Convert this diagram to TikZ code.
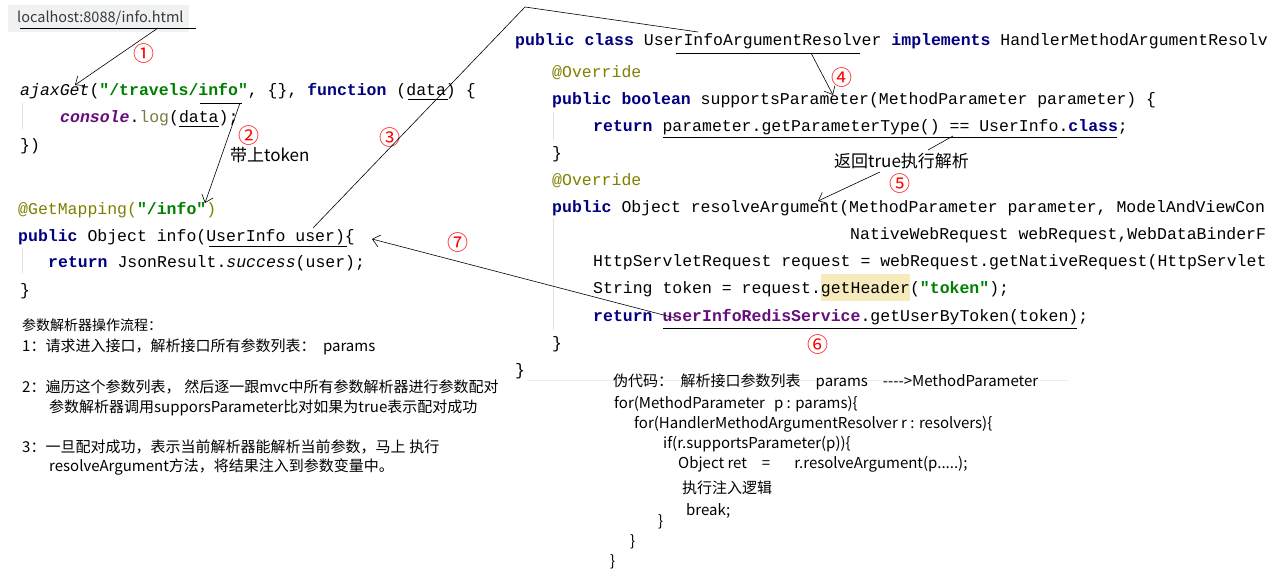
\documentclass[tikz,border=0pt]{standalone}
\usepackage{fontspec}
\setmonofont{Liberation Mono}
\newfontfamily\cjk{Noto Sans CJK SC}
\usetikzlibrary{arrows.meta}
\definecolor{kwc}{HTML}{000080}
\definecolor{strc}{HTML}{008000}
\definecolor{annc}{HTML}{808000}
\definecolor{purp}{HTML}{660E7A}
\definecolor{logc}{HTML}{7A7A43}
\definecolor{hlc}{HTML}{F6EBBC}
\definecolor{guidec}{HTML}{E2E2E2}
\definecolor{urlbg}{HTML}{EFF1F3}
\definecolor{urltext}{HTML}{3A3A3A}
\newcommand\Kw[1]{{\bfseries\color{kwc}#1}}
\newcommand\Str[1]{{\bfseries\color{strc}#1}}
\newcommand\Ann[1]{{\color{annc}#1}}
\tikzset{
  code/.style={anchor=base west, inner sep=0pt, font=\ttfamily\fontsize{16.5}{20}\selectfont},
  note/.style={anchor=base west, inner sep=0pt, font=\cjk\fontsize{15}{18}\selectfont},
  big/.style={anchor=base west, inner sep=0pt, font=\cjk\fontsize{17}{20}\selectfont},
  num/.style={inner sep=0pt, text=red, font=\cjk\fontsize{21}{21}\selectfont},
  uline/.style={line width=0.8pt},
  conn/.style={line width=0.6pt},
  arr/.style={conn, -{Straight Barb[length=7pt,width=12pt]}},
  guide/.style={guidec, line width=1pt},
}
\begin{document}
\begin{tikzpicture}[x=1pt,y=-1pt]
\useasboundingbox[fill=white] (0,0) rectangle (1271,577);

% ---------- left: browser url ----------
\fill[urlbg] (8,5) rectangle (189,32);
\node[anchor=base west, inner sep=0pt, text=urltext, font=\cjk\fontsize{14.5}{16}\selectfont] (url) at (17,23) {localhost:8088/info.html};

% ---------- left code ----------
\draw[guide] (22,103) -- (22,129);
\draw[guide] (22,248) -- (22,273);
\node[code] (l1) at (20,96) {\textit{ajaxGet}(\Str{"/travels/info"}, \{\}, \Kw{function} (data) \{};
\node[code] (l2) at (60,123) {{\bfseries\itshape\color{purp}console}.{\color{logc}log}(data);};
\node[code] (l3) at (20,151) {\})};
\node[code] (l4) at (18,215) {\Ann{@GetMapping(}\Str{"/info"}\Ann{)}};
\node[code] (l5) at (18,242) {\Kw{public} Object info(UserInfo user)\{};
\node[code] (l6) at (48,268) {\Kw{return} JsonResult.\textit{success}(user);};
\node[code] (l7) at (20,295) {\}};

% ---------- right code ----------
\fill[hlc] (821,274) rectangle (910,301);
\draw[guide] (553,112) -- (553,140);
\draw[guide] (553,218) -- (553,330);
\node[code] (r1) at (515,46) {\Kw{public} \Kw{class} UserInfoArgumentResolver \Kw{implements} HandlerMethodArgumentResolv};
\node[code] (r2) at (552,78) {\Ann{@Override}};
\node[code] (r3) at (552,105) {\Kw{public} \Kw{boolean} supportsParameter(MethodParameter parameter) \{};
\node[code] (r4) at (593,132) {\Kw{return} parameter.getParameterType() == UserInfo.\Kw{class};};
\node[code] (r5) at (552,159) {\}};
\node[code] (r6) at (552,186) {\Ann{@Override}};
\node[code] (r7) at (552,213) {\Kw{public} Object resolveArgument(MethodParameter parameter, ModelAndViewCon};
\node[code] (r8) at (850,240) {NativeWebRequest webRequest,WebDataBinderF};
\node[code] (r9) at (593,267) {HttpServletRequest request = webRequest.getNativeRequest(HttpServlet};
\node[code] (r10) at (593,294) {String token = request.getHeader(\Str{"token"});};
\node[code] (r11) at (593,321) {\Kw{return} {\bfseries\color{purp}userInfoRedisService}.getUserByToken(token);};
\node[code] (r12) at (552,348) {\}};
\node[code] (r13) at (515,375) {\}};
\draw[color=black!7, line width=0.8pt] (527,380) -- (1068,380);

% ---------- underlines ----------
\draw[uline] (20,28) -- (196,28);
\draw[uline] (200,103) -- (242,103);
\draw[uline] (408,99) -- (448,99);
\draw[uline] (179,126) -- (219,126);
\draw[uline] (209,246) -- (347,246);
\draw[uline] (676,53) -- (860,53);
\draw[uline] (663,137) -- (1117,137);
\draw[uline] (663,328) -- (1077,328);

% ---------- notes ----------
\node[big] (tok) at (230,162) {带上token};
\node[big] (ret) at (834,168) {返回true执行解析};

\node[note, font=\cjk\fontsize{14}{16}\selectfont] (d0) at (22,330) {参数解析器操作流程：};
\node[note] (d1) at (22,351) {1：请求进入接口，解析接口所有参数列表：\hspace{0.5em}params};
\node[note] (d2) at (22,392) {2：遍历这个参数列表，\hspace{0.25em}然后逐一跟mvc中所有参数解析器进行参数配对};
\node[note] (d3) at (49,412) {参数解析器调用supporsParameter比对如果为true表示配对成功};
\node[note] (d4) at (22,452) {3：一旦配对成功，表示当前解析器能解析当前参数，马上\hspace{0.25em}执行};
\node[note] (d5) at (49,471) {resolveArgument方法，将结果注入到参数变量中。};

\node[note] (p0) at (613,386) {伪代码：\hspace{0.5em}解析接口参数列表\hspace{1em}params\hspace{1em}{-}{-}{-}{-}>MethodParameter};
\node[note] (p1) at (614,408) {for(MethodParameter\hspace{0.6em}p : params)\{};
\node[note] (p2) at (634,428) {for(HandlerMethodArgumentResolver r : resolvers)\{};
\node[note] (p3) at (663,448) {if(r.supportsParameter(p))\{};
\node[note] (p4) at (678,468) {Object ret\hspace{1em}=\hspace{1.6em}r.resolveArgument(p.....);};
\node[note] (p5) at (682,493) {执行注入逻辑};
\node[note] (p6) at (686,515) {break;};
\node[note] (p7) at (658,526) {\}};
\node[note] (p8) at (630,546) {\}};
\node[note] (p9) at (610,566) {\}};

% ---------- numbers ----------
\node[num] (n1) at (144,54) {①};
\node[num] (n2) at (249,136) {②};
\node[num] (n3) at (390,138) {③};
\node[num] (n4) at (842,78) {④};
\node[num] (n5) at (900,184) {⑤};
\node[num] (n6) at (818,345) {⑥};
\node[num] (n7) at (458,243) {⑦};

% ---------- connectors ----------
\coordinate (c1a) at (158,28);  \coordinate (c1b) at (75,85);
\coordinate (c2a) at (240,103); \coordinate (c2b) at (205,203);
\coordinate (c3a) at (313,228); \coordinate (c3m) at (525,7); \coordinate (c3b) at (698,32);
\coordinate (c4a) at (811,53);  \coordinate (c4b) at (833,95);
\coordinate (c5a) at (953,136); \coordinate (c5b) at (928,150);
\coordinate (c6a) at (880,172); \coordinate (c6b) at (818,201);
\coordinate (c7a) at (675,318); \coordinate (c7b) at (372,239);
\draw[arr] (c1a) -- (c1b);
\draw[arr] (c2a) -- (c2b);
\draw[conn] (c3a) -- (c3m) -- (c3b);
\draw[arr] (c4a) -- (c4b);
\draw[conn] (c5a) -- (c5b);
\draw[arr] (c6a) -- (c6b);
\draw[arr] (c7a) -- (c7b);
\end{tikzpicture}
\end{document}
